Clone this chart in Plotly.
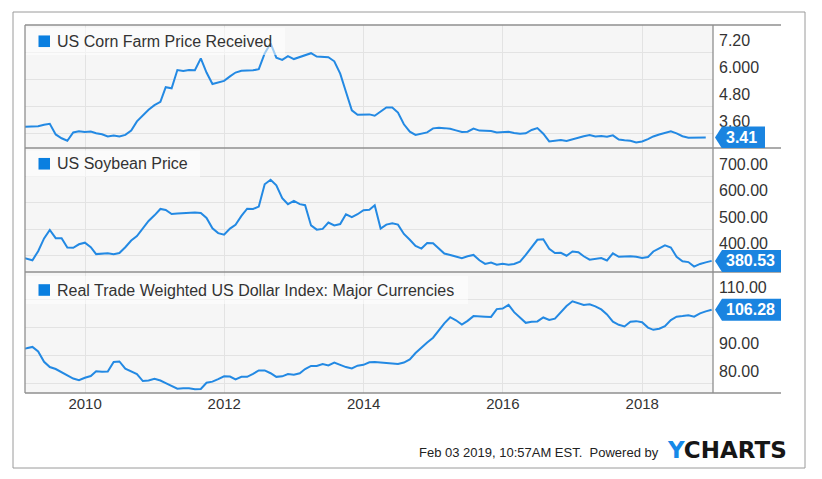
import pandas as pd
import plotly.graph_objects as go
from plotly.subplots import make_subplots

# ---------------- data (monthly, month-end) ----------------
months = pd.date_range("2009-01-31", periods=120, freq="ME")

corn = [3.89, 3.89, 3.89, 3.91, 3.98, 4.02, 3.55, 3.38, 3.27, 3.64, 3.69, 3.66,
        3.68, 3.60, 3.56, 3.46, 3.50, 3.46, 3.53, 3.72, 4.13, 4.40, 4.65, 4.85,
        5.00, 5.65, 5.60, 6.41, 6.37, 6.41, 6.40, 6.93, 6.30, 5.79, 5.87, 5.93,
        6.13, 6.30, 6.38, 6.38, 6.40, 6.45, 7.15, 7.60, 6.96, 6.86, 7.03, 6.90,
        7.00, 7.08, 7.16, 7.01, 7.01, 6.98, 6.80, 6.25, 5.45, 4.62, 4.42, 4.42,
        4.44, 4.38, 4.55, 4.75, 4.75, 4.52, 4.00, 3.67, 3.53, 3.60, 3.64, 3.82,
        3.85, 3.83, 3.80, 3.73, 3.66, 3.67, 3.81, 3.72, 3.70, 3.70, 3.64, 3.67,
        3.67, 3.61, 3.58, 3.60, 3.75, 3.83, 3.58, 3.24, 3.26, 3.30, 3.26, 3.34,
        3.42, 3.47, 3.52, 3.46, 3.48, 3.45, 3.51, 3.32, 3.29, 3.27, 3.19, 3.24,
        3.34, 3.46, 3.55, 3.63, 3.69, 3.60, 3.47, 3.40, 3.41, 3.42, 3.41]

soybean = [394, 390, 383, 417, 465, 497, 466, 466, 431, 430, 443, 449,
           432, 406, 408, 409, 406, 410, 432, 457, 474, 503, 531, 552,
           576, 572, 557, 559, 561, 562, 563, 561, 542, 503, 485, 479,
           502, 516, 550, 577, 576, 585, 669, 686, 665, 617, 594, 606,
           594, 590, 514, 498, 501, 525, 514, 519, 556, 545, 556, 571,
           573, 590, 502, 517, 522, 517, 482, 460, 437, 427, 448, 447,
           427, 408, 403, 396, 391, 398, 403, 383, 369, 374, 366, 370,
           366, 369, 378, 403, 434, 460, 462, 426, 410, 411, 400, 416,
           413, 398, 385, 389, 391, 382, 409, 396, 397, 398, 396, 391,
           395, 416, 428, 439, 431, 396, 379, 376, 359, 369, 375, 380.53]

dollar = [92.4, 92.5, 93.0, 91.4, 87.7, 85.8, 85.1, 84.0, 82.9, 81.7, 81.1, 82.0,
          82.6, 84.3, 84.1, 84.2, 87.6, 87.8, 85.2, 84.3, 83.3, 80.8, 81.0, 81.6,
          81.0, 80.1, 79.1, 78.1, 78.2, 78.2, 77.9, 78.0, 80.2, 80.6, 81.5, 82.5,
          82.4, 81.4, 82.3, 82.3, 83.4, 84.6, 84.6, 83.6, 82.3, 82.5, 83.3, 83.1,
          83.6, 85.1, 86.2, 86.2, 86.9, 86.4, 87.4, 86.5, 85.8, 85.3, 86.3, 86.6,
          87.5, 87.6, 87.4, 87.1, 87.0, 86.9, 87.4, 88.5, 90.8, 92.8, 94.6, 96.3,
          99.0, 101.4, 103.6, 102.5, 101.0, 102.3, 104.0, 104.0, 103.8, 103.7, 106.5, 106.7,
          108.0, 105.4, 103.5, 101.6, 102.0, 102.1, 103.5, 102.6, 103.1, 105.5, 107.6, 109.3,
          108.6, 108.0, 108.2, 107.5, 106.4, 104.6, 102.0, 100.9, 100.3, 102.0, 102.2, 101.8,
          99.9, 99.1, 99.5, 100.4, 102.6, 103.8, 104.0, 104.3, 103.8, 105.0, 105.7, 106.28]

series_names = ["US Corn Farm Price Received", "US Soybean Price",
                "Real Trade Weighted US Dollar Index: Major Currencies"]
last_labels = ["3.41", "380.53", "106.28"]

corn_ticks = [3.6, 4.8, 6.0, 7.2]
corn_ticktext = ["3.60", "4.80", "6.000", "7.20"]
soy_ticks = [400, 500, 600, 700]
soy_ticktext = ["400.00", "500.00", "600.00", "700.00"]
usd_ticks = [80, 90, 100, 110]
usd_ticktext = ["80.00", "90.00", "", "110.00"]  # 100.00 is hidden behind the value tag

# ---------------- figure ----------------
W, H = 822, 479
ML, MR, MT, MB = 25, 109, 25, 86
PW, PH = W - ML - MR, H - MT - MB
def px(x):
    return (x - ML) / PW
def py(y):
    return (H - MB - y) / PH

LINE = "#2389e3"
TAG = "#1a84e0"
TXT = "#333333"
FONT = "Liberation Sans, Arial, sans-serif"

fig = make_subplots(rows=3, cols=1, shared_xaxes=True, vertical_spacing=0)
series = [corn, soybean, dollar]
for i, s in enumerate(series):
    fig.add_trace(go.Scatter(x=months[:len(s)], y=s, mode="lines",
                             line=dict(color=LINE, width=2), showlegend=False,
                             hoverinfo="skip"), row=i + 1, col=1)

doms = [[py(148), 1.0], [py(272), py(148)], [0.0, py(272)]]
ranges = [[2.947, 8.413], [338.7, 805.4], [76.54, 119.75]]
ticks = [(corn_ticks, corn_ticktext), (soy_ticks, soy_ticktext), (usd_ticks, usd_ticktext)]
for i in range(3):
    fig.update_yaxes(row=i + 1, col=1, domain=doms[i], range=ranges[i], side="right",
                     tickvals=ticks[i][0], ticktext=ticks[i][1], ticks="",
                     showgrid=True, gridcolor="#e3e3e3", gridwidth=1.2,
                     zeroline=False, showline=False, fixedrange=True,
                     ticklabelshift=-12, ticklabelstandoff=5,
                     tickfont=dict(family=FONT, size=16, color=TXT))

fig.update_xaxes(range=["2009-02-20", "2019-01-07"], tick0="2010-01-01", dtick="M24",
                 tickformat="%Y", showgrid=True, gridcolor="#e3e3e3", gridwidth=1.2,
                 zeroline=False, showline=False, ticks="",
                 tickfont=dict(family=FONT, size=15, color=TXT))

shapes = []
# outer frame
shapes.append(dict(type="rect", xref="paper", yref="paper",
                   x0=px(13), x1=px(805), y0=py(468), y1=py(12),
                   line=dict(color="#9a9a9a", width=1)))
# panel border lines
BORDER = dict(color="#8f8f8f", width=1.3)
for yy in [25, 148, 272, 393]:
    shapes.append(dict(type="line", xref="paper", yref="paper", x0=0, x1=px(781),
                       y0=py(yy), y1=py(yy), line=BORDER))
shapes.append(dict(type="line", xref="paper", yref="paper", x0=0, x1=0,
                   y0=py(393), y1=py(25), line=BORDER))
shapes.append(dict(type="line", xref="paper", yref="paper", x0=1, x1=1,
                   y0=py(393), y1=py(25), line=BORDER))

# legend boxes
legend_boxes = [(27.5, 55, 285), (150.5, 177, 200), (276, 304, 468)]
for (y0, y1, xr), name in zip(legend_boxes, series_names):
    shapes.append(dict(type="rect", xref="paper", yref="paper",
                       x0=px(26), x1=px(xr), y0=py(y1), y1=py(y0),
                       fillcolor="rgba(255,255,255,0.55)", line=dict(width=0)))
    cy = (y0 + y1) / 2
    shapes.append(dict(type="rect", xref="paper", yref="paper",
                       x0=px(38.5), x1=px(50), y0=py(cy + 5.8), y1=py(cy - 5.8),
                       fillcolor="#0a7fe0", line=dict(width=0)))

annotations = []
for (y0, y1, xr), name in zip(legend_boxes, series_names):
    cy = (y0 + y1) / 2
    annotations.append(dict(xref="paper", yref="paper", x=px(55), y=py(cy),
                            xanchor="left", yanchor="middle", showarrow=False,
                            text=name, font=dict(family=FONT, size=16, color=TXT)))

# last-value tags
tag_right = [52, 68, 68]
for i, (s, lab) in enumerate(zip(series, last_labels)):
    yref = ["y", "y2", "y3"][i]
    r = tag_right[i]
    shapes.append(dict(type="path", xref="paper", yref=yref,
                       xsizemode="pixel", ysizemode="pixel",
                       xanchor=1.0, yanchor=s[-1],
                       path=f"M 2,0 L 9,11 L {r},11 L {r},-11 L 9,-11 Z",
                       fillcolor=TAG, line=dict(width=0)))
    annotations.append(dict(xref="paper", yref=yref, x=px(724), y=s[-1],
                            xanchor="left", yanchor="middle", showarrow=False,
                            text=f"<b>{lab}</b>",
                            font=dict(family=FONT, size=16, color="white")))

# footer
annotations.append(dict(xref="paper", yref="paper", x=px(661), y=py(452),
                        xanchor="right", yanchor="middle", showarrow=False,
                        text="Feb 03 2019, 10:57AM EST.&nbsp; Powered by",
                        font=dict(family=FONT, size=13, color="#222222")))
annotations.append(dict(xref="paper", yref="paper", x=px(665), y=py(449.5),
                        xanchor="left", yanchor="middle", showarrow=False,
                        text="<b><span style='color:#1689e8'>Y</span>CHARTS</b>",
                        font=dict(family="DejaVu Sans, sans-serif", size=23, color="#161616")))

fig.update_layout(width=W, height=H, margin=dict(l=ML, r=MR, t=MT, b=MB),
                  paper_bgcolor="white", plot_bgcolor="#f6f6f6",
                  shapes=shapes, annotations=annotations, hovermode=False,
                  showlegend=False)

fig.write_html("out.html")
